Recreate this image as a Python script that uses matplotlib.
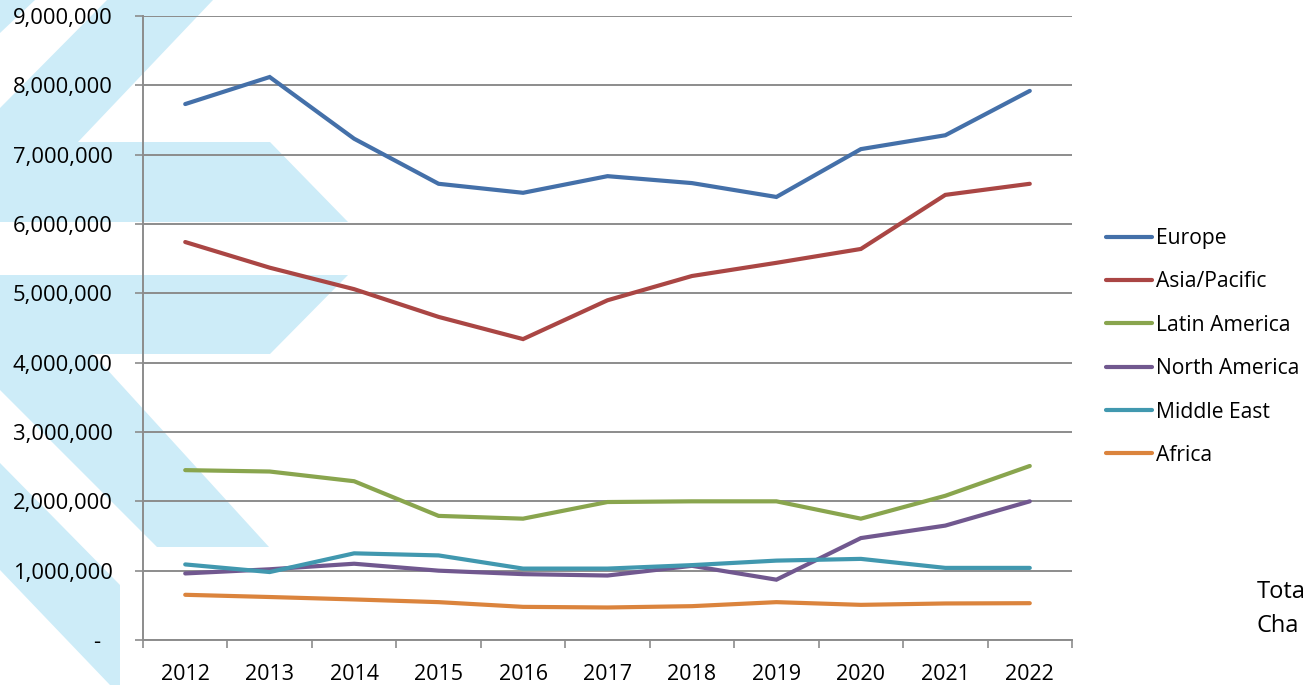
import matplotlib
matplotlib.use("Agg")
import matplotlib.pyplot as plt
from matplotlib.patches import Polygon
from matplotlib.ticker import FuncFormatter, FixedLocator
import numpy as np

years = ["2012", "2013", "2014", "2015", "2016", "2017", "2018", "2019", "2020", "2021", "2022"]
europe = [7.73e6, 8.12e6, 7.23e6, 6.58e6, 6.45e6, 6.69e6, 6.59e6, 6.39e6, 7.08e6, 7.28e6, 7.92e6]
asia_pacific = [5.74e6, 5.37e6, 5.06e6, 4.66e6, 4.34e6, 4.90e6, 5.25e6, 5.44e6, 5.64e6, 6.42e6, 6.58e6]
latin_america = [2.45e6, 2.43e6, 2.29e6, 1.79e6, 1.75e6, 1.99e6, 2.00e6, 2.00e6, 1.75e6, 2.08e6, 2.51e6]
north_america = [0.96e6, 1.02e6, 1.10e6, 1.00e6, 0.95e6, 0.93e6, 1.07e6, 0.87e6, 1.47e6, 1.65e6, 2.00e6]
middle_east = [1.09e6, 0.98e6, 1.25e6, 1.22e6, 1.03e6, 1.03e6, 1.08e6, 1.145e6, 1.17e6, 1.04e6, 1.04e6]
africa = [0.652e6, 0.62e6, 0.585e6, 0.546e6, 0.478e6, 0.469e6, 0.488e6, 0.546e6, 0.507e6, 0.527e6, 0.531e6]

series_names = ["Europe", "Asia/Pacific", "Latin America", "North America", "Middle East", "Africa"]
series_values = [europe, asia_pacific, latin_america, north_america, middle_east, africa]
colors = ["#4470A9", "#AA4644", "#89A54E", "#71588F", "#4198AF", "#DB843D"]

W, H = 1304, 685
fig = plt.figure(figsize=(W / 100, H / 100), dpi=100)
fig.patch.set_facecolor("white")

# decorative background chevrons (pixel coords, top-left origin)
bg = "#CDECF8"
shapes = [
    [(0, 0), (35, 0), (0, 33)],
    [(107, 0), (213, 0), (78, 142), (0, 142), (0, 108)],
    [(0, 142), (270, 142), (348, 222), (0, 222)],
    [(0, 275), (348, 275), (270, 354), (0, 354)],
    [(0, 354), (93, 354), (269, 547), (157, 547), (0, 390)],
    [(0, 463), (120, 585), (120, 685), (110, 685), (0, 570)],
]
for s in shapes:
    pts = [(x / W, 1 - y / H) for x, y in s]
    fig.patches.append(Polygon(pts, closed=True, transform=fig.transFigure,
                               facecolor=bg, edgecolor="none", zorder=-5))

ax_left, ax_right, ax_top, ax_bottom = 143, 1072, 16, 640
ax = fig.add_axes([ax_left / W, 1 - ax_bottom / H, (ax_right - ax_left) / W, (ax_bottom - ax_top) / H])
ax.set_zorder(2)
ax.patch.set_alpha(0)

x = np.arange(len(years))
for name, vals, c in zip(series_names, series_values, colors):
    ax.plot(x, vals, color=c, lw=3.0, label=name, solid_capstyle="round", solid_joinstyle="miter", zorder=3)

ax.set_xlim(-0.5, len(years) - 0.5)
ax.set_ylim(0, 9e6)

grid_c = "#8C8C8C"
ax.yaxis.set_major_locator(FixedLocator(np.arange(0, 9.5e6, 1e6)))
ax.yaxis.set_major_formatter(FuncFormatter(lambda v, p: "-  " if v == 0 else f"{int(v):,}"))
ax.grid(axis="y", color=grid_c, lw=1.4, zorder=1)
ax.set_axisbelow(True)

ax.set_xticks(x)
ax.set_xticklabels(years)
ax.set_xticks(np.arange(-0.5, len(years), 1.0), minor=True)
ax.tick_params(axis="x", which="major", length=0, pad=17, labelsize=15.5)
ax.tick_params(axis="x", which="minor", length=5.5, width=1.2, color=grid_c, direction="out")
ax.tick_params(axis="y", which="major", length=6, width=1.2, color=grid_c, pad=16, labelsize=15.8)

for side in ["top", "right"]:
    ax.spines[side].set_visible(False)
for side in ["left", "bottom"]:
    ax.spines[side].set_color(grid_c)
    ax.spines[side].set_linewidth(1.4)

for lbl in ax.get_xticklabels() + ax.get_yticklabels():
    lbl.set_fontfamily("Open Sans")
    lbl.set_color("#000000")

leg = fig.legend(loc="upper left", bbox_to_anchor=(1106 / W, 1 - 228 / H), frameon=False,
                 prop={"family": "Open Sans", "size": 15.2}, handlelength=2.2, handletextpad=0.18,
                 labelspacing=1.06, borderpad=0, borderaxespad=0)

fig.text(1257 / W, 1 - 592 / H, "Tota", fontsize=17, family="Open Sans", va="center", ha="left")
fig.text(1257 / W, 1 - 626 / H, "Cha", fontsize=17, family="Open Sans", va="center", ha="left")

fig.savefig("out.png", dpi=100)
